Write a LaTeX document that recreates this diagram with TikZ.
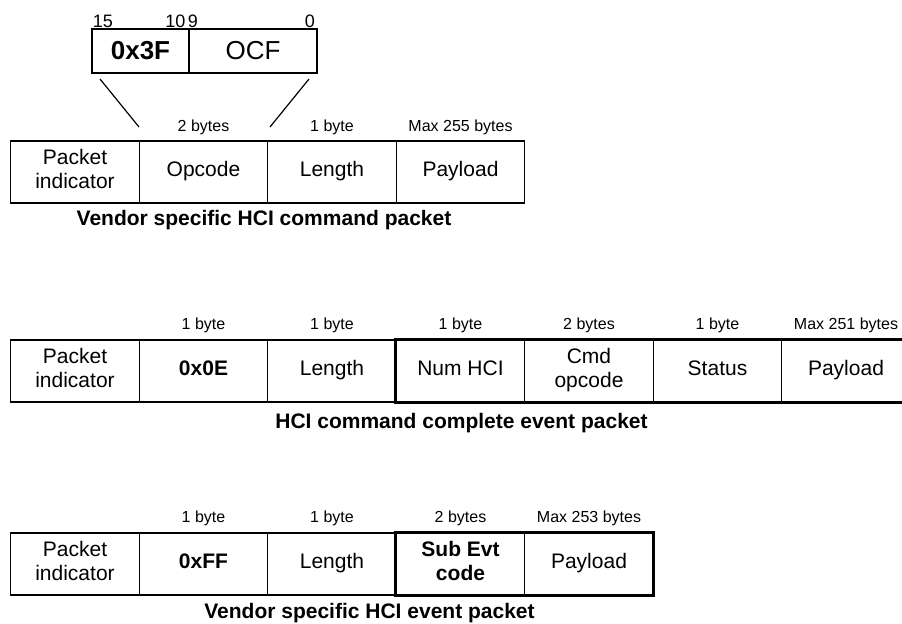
\documentclass[tikz,border=0pt]{standalone}
\usepackage{fontspec}
\setmainfont{Liberation Sans}

\begin{document}
\begin{tikzpicture}[x=0.5pt, y=-0.5pt,
    field/.style={draw, line width=0.6pt, minimum width=64.25pt, minimum height=31pt,
        inner sep=0pt, align=center, font=\fontsize{10.5}{12}\selectfont,
        execute at begin node=\strut, execute at end node=\strut},
    opfield/.style={draw, line width=0.6pt, minimum height=22pt, inner sep=0pt,
        font=\fontsize{13}{15}\selectfont},
    sizelabel/.style={inner sep=0pt, font=\fontsize{8}{9.6}\selectfont},
    bitlabel/.style={inner sep=0pt, font=\fontsize{9}{10.8}\selectfont},
    caption/.style={inner sep=0pt, font=\fontsize{10.5}{12}\selectfont\bfseries},
    group/.style={draw, line width=1.5pt}]
    % Canvas
    \useasboundingbox (0,0) rectangle (902,624);
    \clip (0,0) rectangle (902,624);

    % Opcode split
    \node[opfield, minimum width=48.5pt] (ogf) at (140.5,51) {\textbf{0x3F}};
    \node[opfield, minimum width=64pt] (ocf) at (253,51) {OCF};
    \node[bitlabel] (b15) at (103,21) {15};
    \node[bitlabel] (b10) at (175.5,21) {10};
    \node[bitlabel] (b9) at (193,21) {9};
    \node[bitlabel] (b0) at (310,21) {0};

    % Command packet
    \node[field] (pi1) at (75,172) {Packet\\indicator};
    \node[field] (opc1) at (203.5,172) {Opcode};
    \node[field] (len1) at (332,172) {Length};
    \node[field] (pay1) at (460.5,172) {Payload};
    \node[sizelabel] (s1b) at (203.5,127) {2 bytes};
    \node[sizelabel] (s1c) at (332,127) {1 byte};
    \node[sizelabel] (s1d) at (460.5,127) {Max 255 bytes};
    \node[caption] (cap1) at (264,220) {Vendor specific HCI command packet};

    % Fan from opcode to its bits
    \coordinate (fanLa) at (100,79);
    \coordinate (fanLb) at (139,127);
    \coordinate (fanRa) at (309,79);
    \coordinate (fanRb) at (270,127);
    \draw[line width=0.6pt] (fanLa) -- (fanLb);
    \draw[line width=0.6pt] (fanRa) -- (fanRb);

    % Command complete event packet
    \node[field] (pi2) at (75,371) {Packet\\indicator};
    \node[field] (evt2) at (203.5,371) {\textbf{0x0E}};
    \node[field] (len2) at (332,371) {Length};
    \node[field] (num2) at (460.5,371) {Num HCI};
    \node[field] (cmd2) at (589,371) {Cmd\\opcode};
    \node[field] (sta2) at (717.5,371) {Status};
    \node[field] (pay2) at (846,371) {Payload};
    \draw[group] (num2.north west) rectangle (pay2.south east);
    \node[sizelabel] (s2b) at (203.5,325) {1 byte};
    \node[sizelabel] (s2c) at (332,325) {1 byte};
    \node[sizelabel] (s2d) at (460.5,325) {1 byte};
    \node[sizelabel] (s2e) at (589,325) {2 bytes};
    \node[sizelabel] (s2f) at (717.5,325) {1 byte};
    \node[sizelabel] (s2g) at (846,325) {Max 251 bytes};
    \node[caption] (cap2) at (461.5,423) {HCI command complete event packet};

    % Vendor event packet
    \node[field] (pi3) at (75,564) {Packet\\indicator};
    \node[field] (evt3) at (203.5,564) {\textbf{0xFF}};
    \node[field] (len3) at (332,564) {Length};
    \node[field] (sub3) at (460.5,564) {\textbf{Sub Evt}\\\textbf{code}};
    \node[field] (pay3) at (589,564) {Payload};
    \draw[group] (sub3.north west) rectangle (pay3.south east);
    \node[sizelabel] (s3b) at (203.5,518) {1 byte};
    \node[sizelabel] (s3c) at (332,518) {1 byte};
    \node[sizelabel] (s3d) at (460.5,518) {2 bytes};
    \node[sizelabel] (s3e) at (589,518) {Max 253 bytes};
    \node[caption] (cap3) at (369.5,613) {Vendor specific HCI event packet};
\end{tikzpicture}
\end{document}
